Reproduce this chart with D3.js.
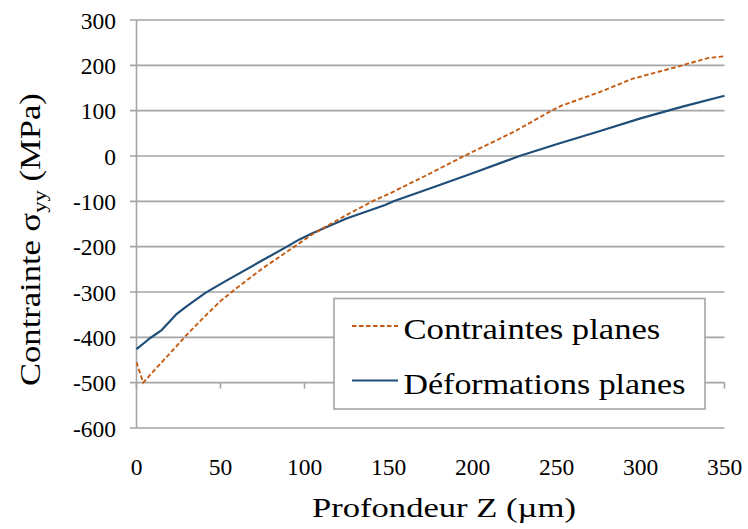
<!DOCTYPE html>
<html>
<head>
<meta charset="utf-8">
<script src="https://cdn.jsdelivr.net/npm/d3@7"></script>
<style>
  html, body { margin: 0; padding: 0; background: #fff; }
  svg { display: block; }
</style>
</head>
<body>
<svg id="chart" width="748" height="529"></svg>
<script>
// ---- data ----
const xTicks = [0, 50, 100, 150, 200, 250, 300, 350];
const yTicks = [300, 200, 100, 0, -100, -200, -300, -400, -500, -600];

const planStressZ = [0, 4, 10, 20, 30, 40, 50, 60, 75, 90, 105, 125, 142, 150, 175, 195, 225, 247, 253, 275, 295, 325, 340, 350];
const planStressV = [-455, -500, -475, -435, -394, -356, -320, -290, -248, -210, -172, -130, -97, -84, -38, 0, 54, 100, 111, 140, 170, 200, 216, 220];

const planStrainZ = [0, 8, 15, 20, 24, 30, 41, 53, 75, 89, 97, 105, 125, 148, 153, 175, 200, 228, 250, 275, 300, 325, 350];
const planStrainV = [-426, -402, -384, -364, -348, -331, -302, -276, -230, -201, -184, -170, -138, -108, -100, -71, -38, 0, 26, 54, 83, 109, 133];

const seriesNames = ["Contraintes planes", "Déformations planes"];
const xTitle = "Profondeur Z (µm)";

// ---- layout ----
const FONT = "'Liberation Serif', 'DejaVu Serif', 'Noto Serif', serif";
const svg = d3.select("#chart");
const x = d3.scaleLinear().domain([0, 350]).range([136.5, 724.5]);
const y = d3.scaleLinear().domain([-600, 300]).range([428, 20]);
const gridColor = "#a5a5a5";

// horizontal gridlines (with left tick stubs)
svg.append("g").selectAll("line").data(yTicks).join("line")
  .attr("x1", 130).attr("x2", x(350))
  .attr("y1", d => y(d)).attr("y2", d => y(d))
  .attr("stroke", gridColor).attr("stroke-width", 1.6);

// y axis line
svg.append("line")
  .attr("x1", x(0)).attr("x2", x(0)).attr("y1", y(300)).attr("y2", y(-600))
  .attr("stroke", gridColor).attr("stroke-width", 1.6);

// x axis line at -500 with ticks going down
svg.append("g").selectAll("line").data(xTicks).join("line")
  .attr("x1", d => x(d)).attr("x2", d => x(d))
  .attr("y1", y(-500)).attr("y2", y(-500) + 6)
  .attr("stroke", gridColor).attr("stroke-width", 1.6);

// y tick labels
svg.append("g").selectAll("text").data(yTicks).join("text")
  .attr("x", 116).attr("y", d => y(d) + 8.5)
  .attr("text-anchor", "end")
  .attr("font-family", FONT).style("font-family", FONT)
  .style("font-size", "23.5px")
  .text(d => d < 0 ? "-" + Math.abs(d) : String(d));

// x tick labels
svg.append("g").selectAll("text").data(xTicks).join("text")
  .attr("x", d => x(d)).attr("y", 475)
  .attr("text-anchor", "middle")
  .attr("font-family", FONT).style("font-family", FONT)
  .style("font-size", "23.5px")
  .text(d => String(d));

// helper: stretch a text element horizontally to a target width
function fitWidth(sel, x0, target) {
  const w = sel.node().getBBox().width;
  const k = target / w;
  sel.attr("transform", `translate(${x0},0) scale(${k},1) translate(${-x0},0)`);
}

// x title
const xt = svg.append("text")
  .attr("x", 312).attr("y", 517)
  .attr("font-family", FONT).style("font-family", FONT)
  .style("font-size", "28px")
  .text(xTitle);
fitWidth(xt, 312, 264);

// y title (rotated)
const yg = svg.append("g").attr("transform", "translate(40,386) rotate(-90)");
const yt = yg.append("text").attr("x", 0).attr("y", 0)
  .attr("font-family", FONT).style("font-family", FONT)
  .style("font-size", "29px");
yt.append("tspan").text("Contrainte σ");
yt.append("tspan").attr("dy", 6).style("font-size", "19px").text("yy");
yt.append("tspan").attr("dy", -6).text(" (MPa)");
fitWidth(yt, 0, 293);

// lines
const line = d3.line().x(d => x(d[0])).y(d => y(d[1]));
const stressData = planStressZ.map((z, i) => [z, planStressV[i]]);
const strainData = planStrainZ.map((z, i) => [z, planStrainV[i]]);

svg.append("path").datum(strainData)
  .attr("d", line).attr("fill", "none")
  .attr("stroke", "#1F4E79").attr("stroke-width", 2.2)
  .attr("stroke-linejoin", "round");

svg.append("path").datum(stressData)
  .attr("d", line).attr("fill", "none")
  .attr("stroke", "#C55A11").attr("stroke-width", 1.9)
  .attr("stroke-dasharray", "4.5,2.5");

// legend
svg.append("rect")
  .attr("x", 334).attr("y", 298.5).attr("width", 371).attr("height", 110.5)
  .attr("fill", "#fff").attr("stroke", gridColor).attr("stroke-width", 1.6);

svg.append("line").attr("x1", 352).attr("x2", 398).attr("y1", 326).attr("y2", 326)
  .attr("stroke", "#C55A11").attr("stroke-width", 1.9).attr("stroke-dasharray", "4.5,2.5");
svg.append("line").attr("x1", 352).attr("x2", 398).attr("y1", 380.5).attr("y2", 380.5)
  .attr("stroke", "#1F4E79").attr("stroke-width", 2.2);

const l1 = svg.append("text").attr("x", 403.5).attr("y", 339.5)
  .attr("font-family", FONT).style("font-family", FONT)
  .style("font-size", "29px").text(seriesNames[0]);
fitWidth(l1, 403.5, 257);
const l2 = svg.append("text").attr("x", 403.5).attr("y", 394)
  .attr("font-family", FONT).style("font-family", FONT)
  .style("font-size", "29px").text(seriesNames[1]);
fitWidth(l2, 403.5, 282);
</script>
</body>
</html>
